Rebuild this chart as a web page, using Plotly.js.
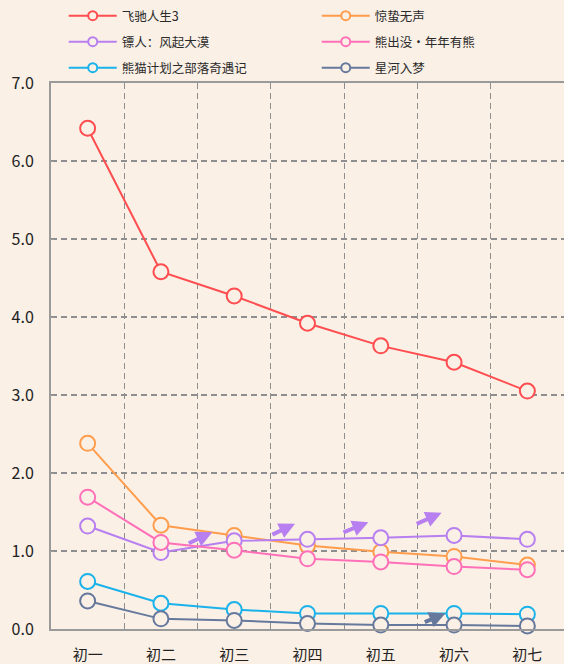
<!DOCTYPE html>
<html>
<head>
<meta charset="utf-8">
<script src="https://cdn.plot.ly/plotly-3.0.1.min.js"></script>
<style>html,body{margin:0;padding:0;background:#faf0e6;}#chart{width:564px;height:664px;}</style>
</head>
<body>
<div id="chart"></div>
<script>
const categories = ['初一','初二','初三','初四','初五','初六','初七'];
const seriesNames = ['飞驰人生3','惊蛰无声','镖人：风起大漠','熊出没·年年有熊','熊猫计划之部落奇遇记','星河入梦'];
const feichi = [6.42, 4.58, 4.27, 3.92, 3.63, 3.42, 3.05];
const jingzhe = [2.38, 1.33, 1.20, 1.07, 0.99, 0.93, 0.82];
const biaoren = [1.32, 0.98, 1.13, 1.15, 1.17, 1.20, 1.15];
const xiongchumei = [1.69, 1.11, 1.01, 0.90, 0.86, 0.80, 0.76];
const xiongmao = [0.61, 0.33, 0.25, 0.20, 0.20, 0.20, 0.19];
const xinghe = [0.36, 0.13, 0.11, 0.07, 0.05, 0.05, 0.04];
const yTickVals = [0,1,2,3,4,5,6,7];

const allSeries = [feichi, jingzhe, biaoren, xiongchumei, xiongmao, xinghe];
const colors = ['#ff4d50','#ff9d4d','#b77ff0','#ff70b8','#1ab2ea','#66799c'];
const bg = '#faf0e6';

// decorative trend arrows: [tailX, tailY, tipX, tipY, colorIndex]
const arrows = [
  [1.36,1.09,1.70,1.24,2],
  [2.50,1.20,2.83,1.35,2],
  [3.47,1.23,3.83,1.37,2],
  [4.47,1.34,4.83,1.49,2],
  [4.58,0.08,4.88,0.20,5]
];

// legend rows: two entries per row, each row its own legend
const legendIds = ['legend','legend','legend2','legend2','legend3','legend3'];

const dataTraces = allSeries.map((ys,i)=>({
  type:'scatter', mode:'lines+markers', name: seriesNames[i], showlegend:false,
  x: categories, y: ys,
  line:{color:colors[i], width:2},
  marker:{symbol:'circle', size:15, color:bg, line:{color:colors[i], width:2}},
  cliponaxis:false
}));
// legend-only entries with smaller markers
const legendTraces = seriesNames.map((n,i)=>({
  type:'scatter', mode:'lines+markers', name:n, showlegend:true, legend:legendIds[i],
  x:[null], y:[null],
  line:{color:colors[i], width:2},
  marker:{symbol:'circle', size:9, color:bg, line:{color:colors[i], width:2}}
}));

const annotations = arrows.map(a=>({
  x:a[2], y:a[3], ax:a[0], ay:a[1], xref:'x', yref:'y', axref:'x', ayref:'y',
  showarrow:true, arrowhead:2, arrowsize:0.8, arrowwidth:4, arrowcolor:colors[a[4]], text:''
}));

function legendRow(yPix){
  return {orientation:'h', xref:'container', yref:'container', x:0.113, y:1 - yPix/664,
    xanchor:'left', yanchor:'middle', entrywidth:190, entrywidthmode:'pixels', itemwidth:48,
    font:{size:12.5, color:'#2a2a2a'}, bgcolor:'rgba(0,0,0,0)', traceorder:'normal'};
}

const layout = {
  width:564, height:664,
  paper_bgcolor:bg, plot_bgcolor:bg,
  font:{family:'"Noto Sans CJK SC", "Noto Sans", sans-serif', color:'#222'},
  margin:{l:51, r:0, t:83, b:35, pad:0},
  showlegend:true,
  legend: legendRow(16),
  legend2: legendRow(42),
  legend3: legendRow(68),
  xaxis:{type:'category', range:[-0.5,6.5], tickson:'boundaries', showgrid:true, gridcolor:'#8e8e8e', gridwidth:1.2,
    griddash:'6px,4px', showline:true, linecolor:'#9a9a9a', linewidth:2, mirror:true, ticks:'', 
    tickfont:{size:15, color:'#222'}, ticklabelstandoff:11, zeroline:false, fixedrange:true},
  yaxis:{range:[0,7], tickvals:yTickVals, tickformat:'.1f', showgrid:true, gridcolor:'#8e8e8e', gridwidth:1.2,
    griddash:'6px,4px', showline:true, linecolor:'#9a9a9a', linewidth:2, ticks:'inside', ticklen:3, tickcolor:'#999',
    zeroline:false, tickfont:{size:16, color:'#222'}, ticklabelstandoff:12, fixedrange:true},
  annotations: annotations
};

Plotly.newPlot('chart', dataTraces.concat(legendTraces), layout, {displayModeBar:false, staticPlot:true});
</script>
</body>
</html>
